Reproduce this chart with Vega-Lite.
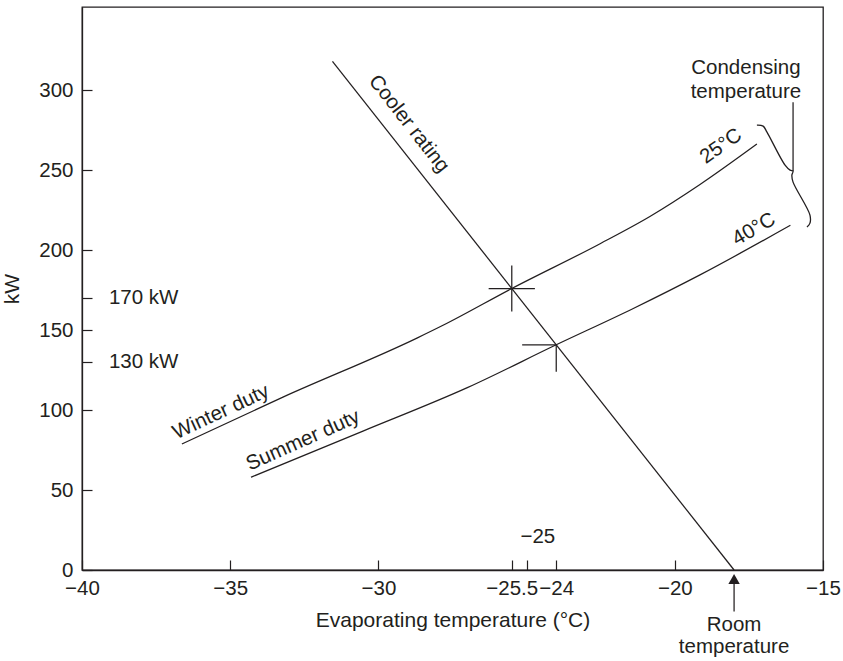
{
  "$schema": "https://vega.github.io/schema/vega-lite/v6.json",
  "width": 741,
  "height": 563,
  "autosize": {"type": "none"},
  "padding": {"left": 82, "top": 7, "right": 20, "bottom": 91},
  "background": "white",
  "config": {
    "view": {"stroke": "#231f20", "strokeWidth": 1.3},
    "font": "Liberation Sans",
    "axis": {
      "grid": false,
      "domainColor": "#231f20",
      "domainWidth": 1.3,
      "tickColor": "#231f20",
      "tickWidth": 1.2,
      "labelColor": "#231f20",
      "titleColor": "#231f20",
      "labelFont": "Liberation Sans",
      "titleFont": "Liberation Sans",
      "labelFontSize": 20.5,
      "titleFontSize": 21,
      "titleFontWeight": "normal",
      "labelOverlap": false,
      "labelFlush": false
    },
    "text": {"font": "Liberation Sans", "fontSize": 20.5, "color": "#231f20"}
  },
  "datasets": {
    "curves": [
      {"series": "Winter duty", "seq": 1, "t": -36.63, "kw": 78.75},
      {"series": "Winter duty", "seq": 2, "t": -33.22, "kw": 108.1},
      {"series": "Winter duty", "seq": 3, "t": -28.7, "kw": 145},
      {"series": "Winter duty", "seq": 4, "t": -27.82, "kw": 153},
      {"series": "Winter duty", "seq": 5, "t": -25.5, "kw": 176},
      {"series": "Winter duty", "seq": 6, "t": -22.52, "kw": 204},
      {"series": "Winter duty", "seq": 7, "t": -20.84, "kw": 221},
      {"series": "Winter duty", "seq": 8, "t": -19.15, "kw": 241},
      {"series": "Winter duty", "seq": 9, "t": -17.23, "kw": 266.3},
      {"series": "Summer duty", "seq": 1, "t": -34.3, "kw": 58},
      {"series": "Summer duty", "seq": 2, "t": -30.5, "kw": 87},
      {"series": "Summer duty", "seq": 3, "t": -27, "kw": 114},
      {"series": "Summer duty", "seq": 4, "t": -24, "kw": 140.8},
      {"series": "Summer duty", "seq": 5, "t": -21.4, "kw": 163.5},
      {"series": "Summer duty", "seq": 6, "t": -19.15, "kw": 184.5},
      {"series": "Summer duty", "seq": 7, "t": -16.1, "kw": 215.5}
    ],
    "brace": [
      {"seq": 1, "t": -17.23, "kw": 278.1},
      {"seq": 2, "t": -17.02, "kw": 277.5},
      {"seq": 3, "t": -16.89, "kw": 273.75},
      {"seq": 4, "t": -16.28, "kw": 253.1},
      {"seq": 5, "t": -16.11, "kw": 250},
      {"seq": 6, "t": -16.01, "kw": 249.4},
      {"seq": 7, "t": -16.05, "kw": 246.9},
      {"seq": 8, "t": -16.01, "kw": 242.5},
      {"seq": 9, "t": -15.44, "kw": 221.9},
      {"seq": 10, "t": -15.44, "kw": 216.9},
      {"seq": 11, "t": -15.54, "kw": 214.4}
    ],
    "segments": [
      {"name": "Cooler rating", "t": -31.55, "kw": 318, "t2": -18, "kw2": 0},
      {"name": "winter cross h", "t": -26.28, "kw": 176, "t2": -24.72, "kw2": 176},
      {"name": "winter cross v", "t": -25.5, "kw": 161.6, "t2": -25.5, "kw2": 190.4},
      {"name": "summer cross h", "t": -25.15, "kw": 140.8, "t2": -24, "kw2": 140.8},
      {"name": "summer cross v", "t": -24, "kw": 140.8, "t2": -24, "kw2": 124},
      {"name": "brace stem", "t": -16.01, "kw": 292.5, "t2": -16.01, "kw2": 249.4},
      {"name": "arrow shaft", "t": -18, "kw": -5, "t2": -18, "kw2": -26}
    ],
    "labels": [
      {"group": "winter", "text": "Winter duty", "t": -35.31, "kw": 98.75},
      {"group": "summer", "text": "Summer duty", "t": -32.54, "kw": 81},
      {"group": "cooler", "text": "Cooler rating", "t": -28.97, "kw": 279},
      {"group": "c25", "text": "25°C", "t": -18.44, "kw": 265},
      {"group": "c40", "text": "40°C", "t": -17.33, "kw": 213},
      {"group": "flat", "text": "Condensing", "t": -17.6, "kw": 313.75},
      {"group": "flat", "text": "temperature", "t": -17.6, "kw": 298.75},
      {"group": "flat", "text": "−25", "t": -24.62, "kw": 20.6},
      {"group": "flat", "text": "Room", "t": -18, "kw": -34.4},
      {"group": "flat", "text": "temperature", "t": -18, "kw": -48.1},
      {"group": "left", "text": "170 kW", "t": -39.09, "kw": 170},
      {"group": "left", "text": "130 kW", "t": -39.09, "kw": 130}
    ],
    "arrow": [{"t": -18, "kw": -5.6}]
  },
  "layer": [
    {
      "data": {"name": "curves"},
      "mark": {"type": "line", "color": "#231f20", "strokeWidth": 1.25, "interpolate": "monotone"},
      "encoding": {
        "x": {
          "field": "t", "type": "quantitative",
          "scale": {"domain": [-40, -15], "nice": false, "zero": false},
          "axis": {
            "values": [-40, -35, -30, -25.5, -25, -24, -20, -15],
            "tickSize": -10,
            "labelPadding": 18,
            "labelExpr": "datum.value == -25 ? '' : replace(toString(datum.value), '-', '−')",
            "title": "Evaporating temperature (°C)",
            "titleY": 50,
            "titleBaseline": "middle"
          }
        },
        "y": {
          "field": "kw", "type": "quantitative",
          "scale": {"domain": [0, 352], "nice": false, "zero": false},
          "axis": {
            "values": [0, 50, 100, 130, 150, 170, 200, 250, 300],
            "tickSize": -10,
            "labelPadding": 19,
            "labelExpr": "datum.value == 130 || datum.value == 170 ? '' : datum.label",
            "title": "kW",
            "titleX": -70,
            "titleBaseline": "middle"
          }
        },
        "detail": {"field": "series"},
        "order": {"field": "seq", "type": "quantitative"}
      }
    },
    {
      "data": {"name": "brace"},
      "mark": {"type": "line", "color": "#231f20", "strokeWidth": 1.3, "interpolate": "catmull-rom"},
      "encoding": {
        "x": {"field": "t", "type": "quantitative"},
        "y": {"field": "kw", "type": "quantitative"},
        "order": {"field": "seq", "type": "quantitative"}
      }
    },
    {
      "data": {"name": "segments"},
      "mark": {"type": "rule", "color": "#231f20", "strokeWidth": 1.25},
      "encoding": {
        "x": {"field": "t", "type": "quantitative"},
        "y": {"field": "kw", "type": "quantitative"},
        "x2": {"field": "t2"},
        "y2": {"field": "kw2"}
      }
    },
    {
      "data": {"name": "arrow"},
      "mark": {"type": "point", "shape": "triangle-up", "filled": true, "size": 130, "color": "#231f20", "opacity": 1},
      "encoding": {
        "x": {"field": "t", "type": "quantitative"},
        "y": {"field": "kw", "type": "quantitative"}
      }
    },
    {
      "data": {"name": "labels"},
      "transform": [{"filter": "datum.group == 'flat'"}],
      "mark": {"type": "text", "align": "center", "baseline": "middle"},
      "encoding": {
        "x": {"field": "t", "type": "quantitative"},
        "y": {"field": "kw", "type": "quantitative"},
        "text": {"field": "text"}
      }
    },
    {
      "data": {"name": "labels"},
      "transform": [{"filter": "datum.group == 'left'"}],
      "mark": {"type": "text", "align": "left", "baseline": "middle"},
      "encoding": {
        "x": {"field": "t", "type": "quantitative"},
        "y": {"field": "kw", "type": "quantitative"},
        "text": {"field": "text"}
      }
    },
    {
      "data": {"name": "labels"},
      "transform": [{"filter": "datum.group == 'winter'"}],
      "mark": {"type": "text", "align": "center", "baseline": "middle", "angle": 335},
      "encoding": {
        "x": {"field": "t", "type": "quantitative"},
        "y": {"field": "kw", "type": "quantitative"},
        "text": {"field": "text"}
      }
    },
    {
      "data": {"name": "labels"},
      "transform": [{"filter": "datum.group == 'summer'"}],
      "mark": {"type": "text", "align": "center", "baseline": "middle", "angle": 336},
      "encoding": {
        "x": {"field": "t", "type": "quantitative"},
        "y": {"field": "kw", "type": "quantitative"},
        "text": {"field": "text"}
      }
    },
    {
      "data": {"name": "labels"},
      "transform": [{"filter": "datum.group == 'cooler'"}],
      "mark": {"type": "text", "align": "center", "baseline": "middle", "angle": 52},
      "encoding": {
        "x": {"field": "t", "type": "quantitative"},
        "y": {"field": "kw", "type": "quantitative"},
        "text": {"field": "text"}
      }
    },
    {
      "data": {"name": "labels"},
      "transform": [{"filter": "datum.group == 'c25'"}],
      "mark": {"type": "text", "align": "center", "baseline": "middle", "angle": 325},
      "encoding": {
        "x": {"field": "t", "type": "quantitative"},
        "y": {"field": "kw", "type": "quantitative"},
        "text": {"field": "text"}
      }
    },
    {
      "data": {"name": "labels"},
      "transform": [{"filter": "datum.group == 'c40'"}],
      "mark": {"type": "text", "align": "center", "baseline": "middle", "angle": 330},
      "encoding": {
        "x": {"field": "t", "type": "quantitative"},
        "y": {"field": "kw", "type": "quantitative"},
        "text": {"field": "text"}
      }
    }
  ]
}
